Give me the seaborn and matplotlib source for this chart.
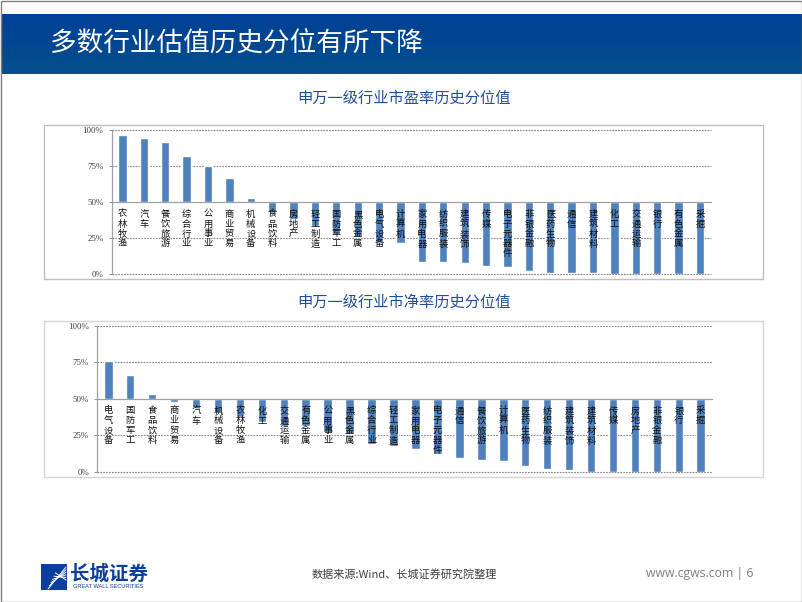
import numpy as np
import matplotlib
matplotlib.use("Agg")
import matplotlib.pyplot as plt
from matplotlib.patches import Rectangle
import seaborn as sns

pe_categories = ["农林牧渔", "汽车", "餐饮旅游", "综合行业", "公用事业", "商业贸易", "机械设备",
                 "食品饮料", "房地产", "轻工制造", "国防军工", "黑色金属", "电气设备", "计算机",
                 "家用电器", "纺织服装", "建筑装饰", "传媒", "电子元器件", "非银金融", "医药生物",
                 "通信", "建筑材料", "化工", "交通运输", "银行", "有色金属", "采掘"]
pe_values = [96.5, 94.7, 91.9, 81.9, 75.2, 66.9, 52.5, 43.3, 38.0, 33.0, 28.0, 26.0, 22.5, 21.8,
             8.6, 8.6, 7.9, 5.8, 5.1, 1.9, 0.9, 0.9, 0.5, 0.2, 0.2, 0.1, 0.1, 0.0]

pb_categories = ["电气设备", "国防军工", "食品饮料", "商业贸易", "汽车", "机械设备", "农林牧渔",
                 "化工", "交通运输", "有色金属", "公用事业", "黑色金属", "综合行业", "轻工制造",
                 "家用电器", "电子元器件", "通信", "餐饮旅游", "计算机", "医药生物", "纺织服装",
                 "建筑装饰", "建筑材料", "传媒", "房地产", "非银金融", "银行", "采掘"]
pb_values = [76.0, 66.3, 53.5, 47.8, 44.0, 40.0, 37.8, 34.0, 31.7, 31.4, 27.0, 26.0, 19.4, 18.0,
             15.7, 12.0, 9.6, 8.4, 7.7, 3.9, 2.0, 1.1, 0.0, 0.0, 0.0, 0.0, 0.0, 0.0]

y_ticks = [0, 25, 50, 75, 100]
y_tick_labels = ["0%", "25%", "50%", "75%", "100%"]
BASELINE = 50

slide_title = "多数行业估值历史分位有所下降"
pe_title = "申万一级行业市盈率历史分位值"
pb_title = "申万一级行业市净率历史分位值"
source_text = "数据来源:Wind、长城证券研究院整理"
site_text = "www.cgws.com | 6"

sns.set_theme(style="white")
plt.rcParams["font.family"] = ["Noto Sans CJK SC", "DejaVu Sans"]

W, H = 802, 602
fig = plt.figure(figsize=(W / 100, H / 100), dpi=100, facecolor="white")

# page decoration layer in pixel coordinates
page = fig.add_axes([0, 0, 1, 1], zorder=0)
page.set_xlim(0, W)
page.set_ylim(H, 0)
page.axis("off")
grad = np.linspace(0, 1, 64)[:, None, None] * np.array([4, 17, -9]) + np.array([0, 63, 149])
page.imshow(grad / 255, extent=[1, W, 74.5, 14.5], aspect="auto", interpolation="bilinear")
page.set_xlim(0, W)
page.set_ylim(H, 0)
page.add_patch(Rectangle((0.5, 0.5), W - 1, H - 1, fill=False, ec="#808080", lw=1))
page.text(50, 44, slide_title, color="white", fontsize=19.2, va="center", ha="left")
page.text(404, 98, pe_title, color="#1F4E9A", fontsize=11, va="center", ha="center", fontweight="medium")
page.text(404, 302, pb_title, color="#1F4E9A", fontsize=11, va="center", ha="center", fontweight="medium")
page.add_patch(Rectangle((44, 124.5), 719, 154.5, fill=False, ec="#BFBFBF", lw=1))
page.add_patch(Rectangle((44, 320.5), 719, 156.5, fill=False, ec="#D4D4D4", lw=1))

# footer
page.add_patch(Rectangle((41, 564), 25.5, 26, fc="#0B3F9B", ec="none"))
for k in range(6):
    page.plot([48 + k * 1.5, 66], [589 - k * 3.2, 567 + k * 2.6], color="white", lw=0.7)
page.text(109, 574, "长城证券", color="#0B3F9B", fontsize=14, ha="center", va="center", fontweight="bold")
page.text(108.5, 586.5, "GREAT WALL SECURITIES", color="#0B3F9B", fontsize=4.1, ha="center", va="center",
          family=["Liberation Sans", "DejaVu Sans"])
page.text(404, 574, source_text, color="#404040", fontsize=8, ha="center", va="center")
page.text(753, 573.5, site_text, color="#7F7F7F", fontsize=8.8, ha="right", va="center",
          family=["Open Sans", "DejaVu Sans"])


def draw(rect, categories, values):
    left, top, right, bottom = rect
    ax = fig.add_axes([left / W, 1 - bottom / H, (right - left) / W, (bottom - top) / H], zorder=2)
    ax.patch.set_alpha(0)
    offset = np.array(values) - BASELINE
    sns.barplot(x=categories, y=offset, bottom=BASELINE, width=0.39, color="#4F81BD",
                saturation=1, ax=ax, zorder=2)
    ax.set_xlim(-0.5, len(categories) - 0.5)
    ax.set_ylim(0, 100)
    ax.set_yticks(y_ticks)
    ax.set_yticklabels(y_tick_labels, family=["Liberation Serif", "DejaVu Serif"], fontsize=6.4, color="#404040")
    ax.set_xticks(range(len(categories)))
    ax.set_xticklabels(["\n".join(c) for c in categories])
    ax.set_xticks(np.arange(-0.5, len(categories)), minor=True)
    ax.tick_params(axis="x", which="major", length=0, pad=5.5, labelsize=6.7, labelcolor="#111111")
    ax.tick_params(axis="x", which="minor", length=2, width=0.7, color="#909090", direction="out")
    ax.tick_params(axis="y", length=2.5, width=0.7, color="#909090", left=True, pad=3.5)
    # axis stays above the bars so labels print over them; gridlines go below the bars
    ax.set_axisbelow(False)
    ax.grid(False)
    for t in y_ticks:
        if t != BASELINE:
            ax.axhline(t, color="#8C8C8C", lw=0.8, ls=(0, (1.6, 1.0)), zorder=0.5, clip_on=False)
    for s in ["top", "right"]:
        ax.spines[s].set_visible(False)
    ax.spines["bottom"].set_position(("data", BASELINE))
    for s in ["bottom", "left"]:
        ax.spines[s].set_color("#A0A0A0")
        ax.spines[s].set_linewidth(0.9)
    for label in ax.get_xticklabels():
        label.set_linespacing(1.13)
        label.set_verticalalignment("top")
    return ax


draw((111.7, 130, 710.7, 274), pe_categories, pe_values)
draw((97.3, 325.7, 711.7, 472), pb_categories, pb_values)

fig.savefig("out.png", dpi=100)
